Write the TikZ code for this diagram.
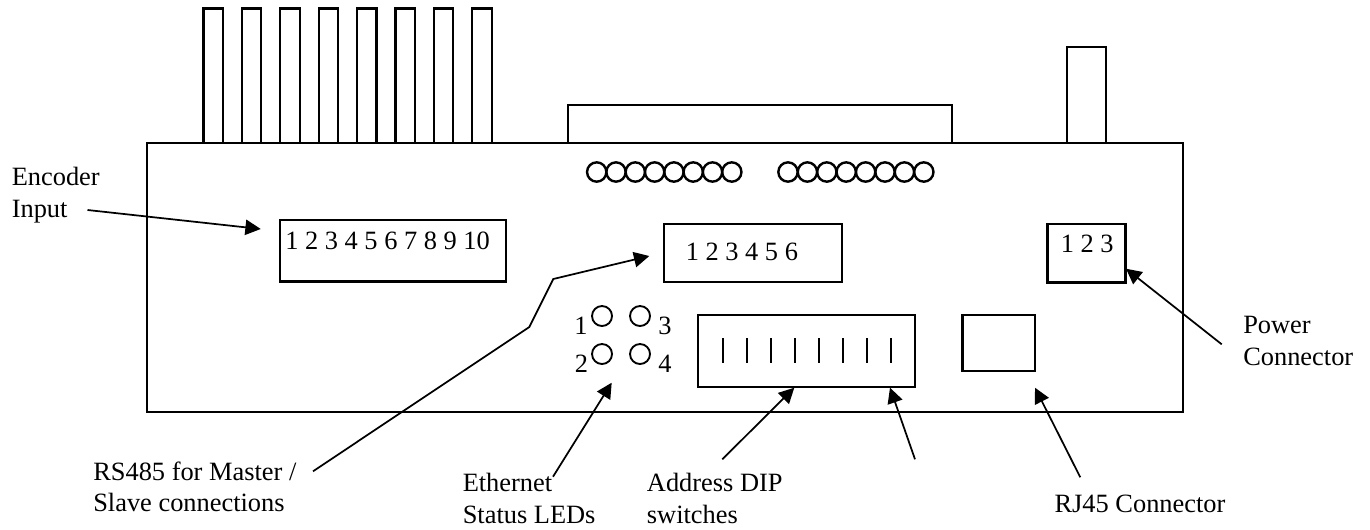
\documentclass[tikz,border=0pt]{standalone}
\usepackage{fontspec}
\setmainfont{Liberation Serif}
\usetikzlibrary{arrows.meta,positioning}
\tikzset{
    %Define standard arrow tip
    >={Triangle[length=11.5pt,width=11.5pt]},
    %Define style for boxes
    outline/.style={
           rectangle,
           draw=black,
           line width=1.3pt,
           inner sep=0pt,
           outer sep=0pt},
    heavybox/.style={
           outline,
           line width=2pt},
    pinrect/.style={
           heavybox,
           line width=1.6pt,
           minimum width=14.5pt,
           minimum height=100.9pt},
    hole/.style={
           circle,
           draw=black,
           line width=1.8pt,
           inner sep=0pt,
           minimum size=14.5pt},
    led/.style={
           circle,
           draw=black,
           line width=1.4pt,
           inner sep=0pt,
           minimum size=15pt},
    %Define style for text
    caption/.style={
           inner sep=0pt,
           anchor=base west,
           align=left,
           font=\fontsize{19.8}{23.4}\selectfont},
    digit/.style={
           caption,
           anchor=base},
    %Define arrow style
    pil/.style={
           ->,
           line width=1.3pt,
           shorten >=0pt}
}
\begin{document}
\begin{tikzpicture}[x=0.75pt,y=-0.75pt]
\useasboundingbox (0,0) rectangle (1370,529);
 %nodes
\node[outline,minimum width=777pt,minimum height=201.75pt](board) at (665,277.5){};
\node[pinrect,above right=0pt and 42.4pt of board.north west](pin1){};
\foreach \i [count=\j from 1] in {2,...,8}
    \node[pinrect,right=14.3pt of pin\j](pin\i){};
\node[heavybox,line width=1.6pt,minimum width=288pt,minimum height=28.7pt,above right=0pt and 315.75pt of board.north west](dsub){};
\node[outline,line width=1.5pt,minimum width=29pt,minimum height=72.2pt,above right=0pt and 690.2pt of board.north west](powerpin){};
\node[heavybox,minimum width=169.5pt,minimum height=46.3pt,below right=57.75pt and 99.75pt of board.north west](encoder){};
\node[outline,minimum width=133.5pt,minimum height=43pt,below right=61pt and 387.75pt of board.north west](rsport){};
\node[heavybox,minimum width=58.5pt,minimum height=44pt,below right=60.75pt and 675.5pt of board.north west](power){};
\node[outline,minimum width=162.5pt,minimum height=54.2pt,below right=129pt and 413.5pt of board.north west](dip){};
\node[heavybox,minimum width=54.5pt,minimum height=42pt,right=35.5pt of dip.north east,anchor=north west](rj){};
 %holes
\foreach \i in {0,...,7}{
    \node[hole](lefthole\i) at ({596.7+19.3*\i},172){};
    \node[hole](righthole\i) at ({788+19.4*\i},172){};
    \draw[line width=1.3pt] ({722.7+24*\i},338.3) -- ({722.7+24*\i},363.3);
}
 %leds
\node[led](led1) at (602,316){};
\node[led](led3) at (640,316){};
\node[led](led2) at (602,354){};
\node[led](led4) at (640,354){};
\node[digit](num1) at (581,334){1};
\node[digit](num3) at (665,334){3};
\node[digit](num2) at (581.5,372){2};
\node[digit](num4) at (665,372){4};
 %text
\node[caption](encodernums) at (285,249){1 2 3 4 5 6 7 8 9 10};
\node[caption](rsnums) at (685.5,260){1 2 3 4 5 6};
\node[caption](powernums) at (1060.5,252.7){1 2 3};
\node[caption](encodertext) at (11.5,217){Encoder\\Input};
\node[caption](rstext) at (93,511.7){RS485 for Master /\\Slave connections};
\node[caption](ethertext) at (462.5,523){Ethernet\\Status LEDs};
\node[caption](diptext) at (646.7,523){Address DIP\\switches};
\node[caption](rjtext) at (1054.3,512.7){RJ45 Connector};
\node[caption](powertext) at (1243,365){Power\\Connector};
 %arrow ends
\coordinate (encoderfrom) at (87.5,210);
\coordinate (encoderto) at (260.7,229);
\coordinate (rsfrom) at (313,471.3);
\coordinate (rsbendA) at (529.3,327);
\coordinate (rsbendB) at (553.3,279);
\coordinate (rsto) at (649.3,256);
\coordinate (etherfrom) at (553,476.7);
\coordinate (etherto) at (611.7,382.7);
\coordinate (dipfromA) at (722.3,459.3);
\coordinate (diptoA) at (794.3,387.7);
\coordinate (dipfromB) at (915,459.3);
\coordinate (diptoB) at (890,387.7);
\coordinate (rjfrom) at (1080.3,477.3);
\coordinate (rjto) at (1035,387.7);
\coordinate (powerfrom) at (1221.7,344.3);
\coordinate (powerto) at (1126,268.7);
\draw[pil] (encoderfrom) -- (encoderto);
\draw[pil] (rsfrom) -- (rsbendA) -- (rsbendB) -- (rsto);
\draw[pil] (etherfrom) -- (etherto);
\draw[pil] (dipfromA) -- (diptoA);
\draw[pil] (dipfromB) -- (diptoB);
\draw[pil] (rjfrom) -- (rjto);
\draw[pil] (powerfrom) -- (powerto);
\end{tikzpicture}
\end{document}
